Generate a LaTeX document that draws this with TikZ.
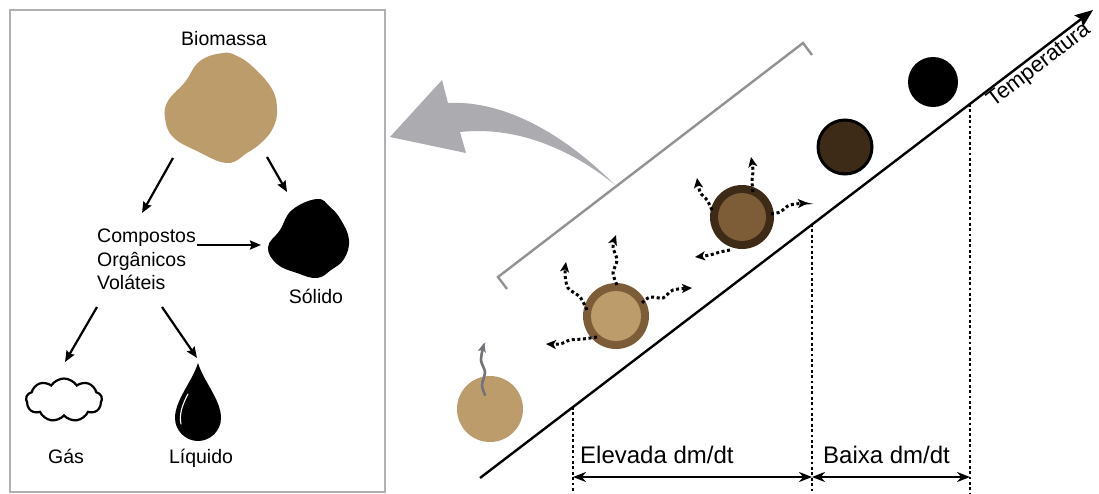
\documentclass[tikz,border=0pt]{standalone}
\usepackage{fontspec}
\setmainfont{Liberation Sans}
\usetikzlibrary{arrows.meta,shapes.symbols}
\definecolor{tan}{HTML}{BC9C6B}
\definecolor{midbrown}{HTML}{7D5C38}
\definecolor{darkbrown}{HTML}{3D2A17}
\definecolor{framegray}{HTML}{B0B0B4}
\definecolor{bracketgray}{HTML}{929292}
\definecolor{swoopgray}{HTML}{ABABB0}
\definecolor{wispgray}{HTML}{737378}
\tikzset{
  flow/.style={line width=2.2pt, -{Stealth[length=11pt,width=9pt,inset=1.5pt]}},
  vapour/.style={line width=3pt, dash pattern=on 3pt off 2.6pt,
    -{Stealth[length=10pt,width=9pt,inset=2.5pt]}},
  guide/.style={line width=2.8pt, dash pattern=on 2.8pt off 2.6pt},
  span/.style={line width=2.2pt,
    {Stealth[length=13pt,width=10pt]}-{Stealth[length=13pt,width=10pt]}},
  lbl/.style={font=\fontsize{19.5}{22}\selectfont, inner sep=0},
  biglbl/.style={font=\fontsize{24}{26}\selectfont, inner sep=0},
  grain/.style={circle, inner sep=0, minimum size=#1},
}
\begin{document}
\begin{tikzpicture}[x=1pt,y=-1pt]
\useasboundingbox (0,0) rectangle (1099,493);

% ---------- left panel: products of pyrolysis ----------
\draw[framegray, line width=2pt] (10,10) rectangle (385,492);

\node[lbl, anchor=base] (tbio) at (224,45) {Biomassa};
\fill[tan] plot[smooth cycle, tension=0.7] coordinates {
  (223,53) (200,61) (185,82) (168,101) (165,118) (173,137) (197,151)
  (227,163) (247,153) (262,142) (273,128) (277,110) (272,89) (253,67) (237,56)};
\coordinate (bioL) at (173,158);
\coordinate (bioR) at (267,157);

\fill[black] plot[smooth cycle, tension=0.7] coordinates {
  (317,199) (292,210) (280,230) (268,247) (277,264) (297,273) (317,278)
  (331,270) (344,259) (349,240) (341,220) (330,207)};
\node[lbl, anchor=base] (tsol) at (316,303) {Sólido};

\node[lbl, anchor=base west] (tc1) at (97,242) {Compostos};
\node[lbl, anchor=base west] (tc2) at (97,266) {Orgânicos};
\node[lbl, anchor=base west] (tc3) at (97,289) {Voláteis};

\node[cloud, cloud puffs=9, cloud puff arc=115, aspect=1.8, draw, fill=white,
  line width=2.2pt, minimum width=76pt, minimum height=43pt, inner sep=0] (gas) at (64,400) {};
\node[lbl, anchor=base] (tgas) at (66,463) {Gás};

\fill[black] (198,363) .. controls (192,382) and (175,400) .. (175,418)
  .. controls (175,431) and (186,441) .. (198,441)
  .. controls (210,441) and (221,431) .. (221,418)
  .. controls (221,400) and (204,382) .. (198,363) -- cycle;
\draw[white, line width=1.1pt, line cap=round] (188,394) .. controls (182,405) and (179,415) .. (181,424);
\node[lbl, anchor=base] (tliq) at (201,463) {Líquido};

\draw[flow] (bioL) -- (142,213);
\draw[flow] (bioR) -- (287,192);
\draw[flow] (197,245) -- (261,245);
\draw[flow] (97,307) -- (65,362);
\draw[flow] (162,307) -- (197,358);

% ---------- curved pointer back to the panel ----------
\fill[swoopgray] (615,185) .. controls (565,135) and (505,100) .. (448,103)
  -- (442,80) -- (390,137) -- (466,153) -- (460,132)
  .. controls (515,126) and (570,148) .. (615,185) -- cycle;

% ---------- temperature axis ----------
\coordinate (ax0) at (480,478);
\coordinate (ax1) at (1093,10);
\draw[line width=2.4pt, -{Stealth[length=18pt,width=14pt,inset=3pt]}] (ax0) -- (ax1);
\node[font=\fontsize{22}{24}\selectfont, inner sep=2pt, anchor=north west, rotate=37.4]
  (ttemp) at (981,95) {Temperatura};

% bracket over the devolatilisation stage
\draw[bracketgray, line width=2.4pt] (507,289) -- (498,277) -- (803,43) -- (812,55);

% dotted stage boundaries
\coordinate (g1) at (573,407);
\coordinate (g2) at (812,224);
\coordinate (g3) at (970,104);
\draw[guide] (g1) -- (573,493);
\draw[guide] (g2) -- (812,493);
\draw[guide] (g3) -- (970,493);

\draw[span] (573,477) -- (812,477);
\draw[span] (812,477) -- (970,477);
\node[biglbl, anchor=base west] (telev) at (580,463) {Elevada dm/dt};
\node[biglbl, anchor=base west] (tbaixa) at (823,463) {Baixa dm/dt};

% ---------- particles ----------
\node[grain=66pt, fill=tan] (p1) at (490,409) {};
\draw[wispgray, line width=2.6pt, line cap=round, -{Stealth[length=9pt,width=8pt,inset=2pt]}]
  plot[smooth] coordinates {(485,395) (482,385) (485,372) (481,360) (484,343)};

\node[grain=66pt, fill=midbrown] (p2) at (616,316) {};
\node[grain=50pt, fill=tan] (p2c) at (616,316) {};
\draw[vapour] plot[smooth] coordinates {(587,310) (580,297) (568,288) (565,274) (566,262)};
\draw[vapour] plot[smooth] coordinates {(617,285) (613,273) (617,260) (613,247) (616,235)};
\draw[vapour] plot[smooth] coordinates {(642,303) (650,297) (663,298) (673,290) (692,288)};
\draw[vapour] plot[smooth] coordinates {(597,337) (583,339) (570,340) (560,344) (546,344)};

\node[grain=64pt, fill=darkbrown] (p3) at (742,217) {};
\node[grain=48pt, fill=midbrown] (p3c) at (742,217) {};
\draw[vapour] plot[smooth] coordinates {(712,210) (707,200) (700,192) (697,178)};
\draw[vapour] plot[smooth] coordinates {(753,192) (752,181) (753,170) (751,157)};
\draw[vapour] plot[smooth] coordinates {(771,214) (780,212) (790,205) (808,203)};
\draw[vapour] plot[smooth] coordinates {(730,250) (720,252) (710,255) (695,257)};

\node[grain=54pt, fill=darkbrown, draw=black, line width=3pt] (p4) at (845,147) {};
\node[grain=50pt, fill=black] (p5) at (933,82) {};
\end{tikzpicture}
\end{document}
